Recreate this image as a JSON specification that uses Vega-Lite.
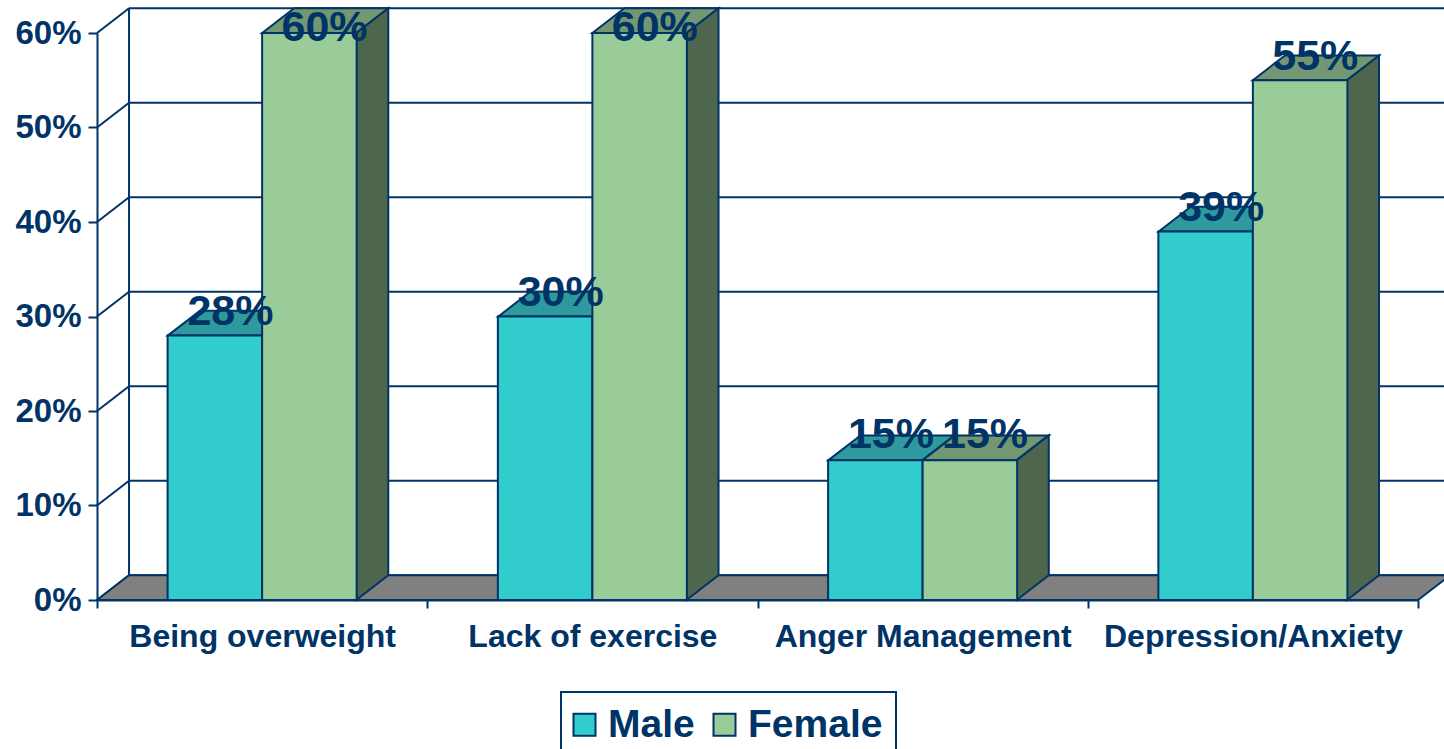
{
"$schema":"https://vega.github.io/schema/vega-lite/v6.json",
"width":1321,"height":567,
"autosize":{"type":"none"},
"padding":{"left":97,"top":33,"right":26,"bottom":149},
"background":"white",
"datasets":{
"bars":[
{"category":"Being overweight","series":"Male","value":0.28},
{"category":"Being overweight","series":"Female","value":0.60},
{"category":"Lack of exercise","series":"Male","value":0.30},
{"category":"Lack of exercise","series":"Female","value":0.60},
{"category":"Anger Management","series":"Male","value":0.148},
{"category":"Anger Management","series":"Female","value":0.148},
{"category":"Depression/Anxiety","series":"Male","value":0.39},
{"category":"Depression/Anxiety","series":"Female","value":0.55}
],
"ticks":[{"tick":0},{"tick":0.1},{"tick":0.2},{"tick":0.3},{"tick":0.4},{"tick":0.5},{"tick":0.6}]
},
"config":{"view":{"stroke":null},"font":"Liberation Sans","legend":{"strokeWidth":2}},
"resolve":{"scale":{"x":"independent"},"axis":{"x":"independent"}},
"layer":[
{"data":{"name":"ticks"},
 "transform":[{"calculate":"datum.tick+0.0262","as":"yb"}],
 "mark":{"type":"rule","stroke":"#003366","strokeWidth":2},
 "encoding":{
  "x":{"datum":0.097,"type":"quantitative","scale":{"domain":[0,4]},"axis":null},
  "x2":{"datum":4.097},
  "y":{"field":"yb","type":"quantitative","scale":{"domain":[0,0.6]},"title":null,"axis":{"values":[0,0.1,0.2,0.3,0.4,0.5,0.6],"format":".0%","title":null,"grid":false,"domain":true,"domainColor":"#003366","domainWidth":2,"tickColor":"#003366","tickWidth":2,"tickSize":9,"labelColor":"#003366","labelFont":"Liberation Sans","labelFontSize":33,"labelFontWeight":"bold","labelPadding":7}}
 }},
{"data":{"name":"ticks"},
 "transform":[{"filter":"datum.tick==0"}],
 "mark":{"type":"rule","stroke":"#003366","strokeWidth":2},
 "encoding":{
  "x":{"datum":0.097,"type":"quantitative","scale":{"domain":[0,4]},"axis":null},
  "y":{"datum":0.0262,"type":"quantitative","scale":{"domain":[0,0.6]},"title":null},
  "y2":{"datum":0.6262}
 }},
{"data":{"name":"ticks"},
 "transform":[{"calculate":"[0,1]","as":"k"},{"flatten":["k"]},{"calculate":"datum.k*0.097","as":"px"},{"calculate":"datum.tick+datum.k*0.0262","as":"py"}],
 "mark":{"type":"line","stroke":"#003366","strokeWidth":2},
 "encoding":{
  "x":{"field":"px","type":"quantitative","scale":{"domain":[0,4]},"axis":null},
  "y":{"field":"py","type":"quantitative","scale":{"domain":[0,0.6]},"title":null},
  "detail":{"field":"tick"}
 }},
{"data":{"name":"ticks"},
 "transform":[{"filter":"datum.tick==0"},{"calculate":"[0,1,2,3]","as":"k"},{"flatten":["k"]},
  {"calculate":"[0,0.097,4,4.097][datum.k]","as":"px"},
  {"calculate":"datum.k==0?0:0.0262","as":"up"},
  {"calculate":"datum.k==3?0.0262:0","as":"lo"}],
 "mark":{"type":"area","fill":"#808080","stroke":"#003366","strokeWidth":2},
 "encoding":{
  "x":{"field":"px","type":"quantitative","scale":{"domain":[0,4]},"axis":null},
  "y":{"field":"up","type":"quantitative","scale":{"domain":[0,0.6]},"title":null},
  "y2":{"field":"lo"}
 }},
{"data":{"name":"bars"},
 "transform":[{"filter":"datum.series=='Male'"},
  {"calculate":"indexof(['Being overweight','Lack of exercise','Anger Management','Depression/Anxiety'],datum.category)+0.215","as":"left"},
  {"calculate":"[0,1,2,3]","as":"k"},{"flatten":["k"]},
  {"calculate":"datum.left+[0,0.097,0.285,0.382][datum.k]","as":"px"},
  {"calculate":"datum.value+(datum.k==0?0:0.0262)","as":"up"},
  {"calculate":"datum.value+(datum.k==3?0.0262:0)","as":"lo"}],
 "mark":{"type":"area","fill":"#2E9A9E","stroke":"#003366","strokeWidth":2},
 "encoding":{
  "x":{"field":"px","type":"quantitative","scale":{"domain":[0,4]},"axis":null},
  "y":{"field":"up","type":"quantitative","scale":{"domain":[0,0.6]},"title":null},
  "y2":{"field":"lo"},
  "detail":{"field":"category"}
 }},
{"data":{"name":"bars"},
 "transform":[{"filter":"datum.series=='Female'"},
  {"calculate":"indexof(['Being overweight','Lack of exercise','Anger Management','Depression/Anxiety'],datum.category)+0.5","as":"left"},
  {"calculate":"[0,1,2,3]","as":"k"},{"flatten":["k"]},
  {"calculate":"datum.left+[0,0.097,0.285,0.382][datum.k]","as":"px"},
  {"calculate":"datum.value+(datum.k==0?0:0.0262)","as":"up"},
  {"calculate":"datum.value+(datum.k==3?0.0262:0)","as":"lo"}],
 "mark":{"type":"area","fill":"#729772","stroke":"#003366","strokeWidth":2},
 "encoding":{
  "x":{"field":"px","type":"quantitative","scale":{"domain":[0,4]},"axis":null},
  "y":{"field":"up","type":"quantitative","scale":{"domain":[0,0.6]},"title":null},
  "y2":{"field":"lo"},
  "detail":{"field":"category"}
 }},
{"data":{"name":"bars"},
 "transform":[{"filter":"datum.series=='Female'"},
  {"calculate":"indexof(['Being overweight','Lack of exercise','Anger Management','Depression/Anxiety'],datum.category)+0.785","as":"right"},
  {"calculate":"[0,1]","as":"k"},{"flatten":["k"]},
  {"calculate":"datum.right+datum.k*0.097","as":"px"},
  {"calculate":"datum.value+datum.k*0.0262","as":"up"},
  {"calculate":"datum.k*0.0262","as":"lo"}],
 "mark":{"type":"area","fill":"#4D664D","stroke":"#003366","strokeWidth":2},
 "encoding":{
  "x":{"field":"px","type":"quantitative","scale":{"domain":[0,4]},"axis":null},
  "y":{"field":"up","type":"quantitative","scale":{"domain":[0,0.6]},"title":null},
  "y2":{"field":"lo"},
  "detail":{"field":"category"}
 }},
{"data":{"name":"bars"},
 "mark":{"type":"bar","stroke":"#003366","strokeWidth":2},
 "encoding":{
  "x":{"field":"category","type":"nominal","sort":null,
   "scale":{"paddingInner":0,"paddingOuter":0},
   "axis":{"title":null,"tickBand":"extent","labelAngle":0,"domain":true,"domainColor":"#003366","domainWidth":2,"tickColor":"#003366","tickWidth":2,"tickSize":8,"labelColor":"#003366","labelFont":"Liberation Sans","labelFontSize":32,"labelFontWeight":"bold","labelPadding":13,"labelLimit":400,"labelOverlap":false}},
  "xOffset":{"field":"series","type":"nominal","sort":null,"scale":{"paddingInner":0,"paddingOuter":0.747}},
  "y":{"field":"value","type":"quantitative","scale":{"domain":[0,0.6]},"title":null},
  "color":{"field":"series","type":"nominal",
   "scale":{"domain":["Male","Female"],"range":["#33CCCC","#99CC99"]},
   "legend":{"title":null,"orient":"none","direction":"horizontal","columns":2,"legendX":464,"legendY":659,"fillColor":"white","strokeColor":"#003366","padding":13,"symbolType":"square","symbolSize":484,"symbolStrokeColor":"#003366","symbolStrokeWidth":2,"symbolOpacity":1,"symbolOffset":-9,"labelColor":"#003366","labelFont":"Liberation Sans","labelFontSize":39,"labelFontWeight":"bold","labelOffset":4,"columnPadding":14,"labelLimit":300}}
 }},
{"data":{"name":"bars"},
 "transform":[
  {"calculate":"indexof(['Being overweight','Lack of exercise','Anger Management','Depression/Anxiety'],datum.category)+(datum.series=='Male'?0.404:0.689)","as":"lx"},
  {"calculate":"min(datum.value+(datum.value<0.2?0.027:0.0248),0.605)","as":"ly"}],
 "mark":{"type":"text","fontSize":43,"fontWeight":"bold","font":"Liberation Sans","fill":"#003366","align":"center","baseline":"middle"},
 "encoding":{
  "x":{"field":"lx","type":"quantitative","scale":{"domain":[0,4]},"axis":null},
  "y":{"field":"ly","type":"quantitative","scale":{"domain":[0,0.6]},"title":null},
  "text":{"field":"value","type":"quantitative","format":".0%"}
 }}
]
}
